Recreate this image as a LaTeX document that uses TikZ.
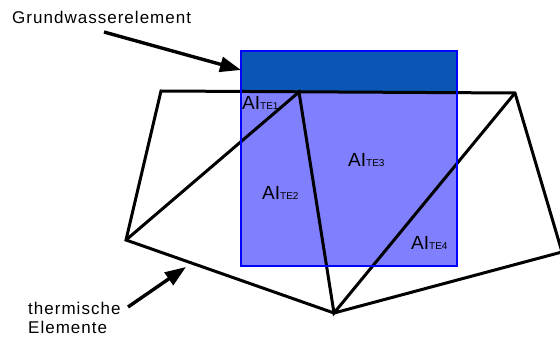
\documentclass[tikz,border=0pt]{standalone}
\usepackage{fontspec}
\setmainfont{Liberation Sans}
\usetikzlibrary{arrows.meta}
\definecolor{gwdark}{RGB}{10,86,182}
\definecolor{gwlight}{RGB}{128,128,255}
\newcommand{\ai}[1]{{\fontsize{19}{22}\selectfont AI}{\fontsize{10}{12}\selectfont #1}}

\begin{document}
\begin{tikzpicture}[x=1pt,y=-1pt,
	lbl/.style={inner sep=0pt,anchor=base west},
	txt/.style={inner sep=0pt,font=\fontsize{17}{19}\selectfont\addfontfeature{LetterSpace=6}},
	pfeil/.style={line width=3.4pt,-{Triangle[length=21pt,width=15pt]}}]
			\useasboundingbox (0,0) rectangle (560,339);
% 			Grundwasserelement
			\fill[gwlight] (241,51) rectangle (457,266);
			\fill[gwdark] (241,51) rectangle (457,92);
			\coordinate (p1) at (161,91);
			\coordinate (p2) at (299,92);
			\coordinate (p3) at (515,93);
			\coordinate (p4) at (126,240);
			\coordinate (p5) at (334,313);
			\coordinate (p6) at (562,252);
			
			\begin{scope}[line width=3pt]
			\draw (p1)--(p3)--(p6)--(p5)--(p4)--cycle;
			\draw (p4)--(p2)--(p5)--(p3);
			\end{scope}
			\draw[blue,line width=2.8pt] (241,51) rectangle (457,266);
			
			\node[lbl] (te1) at (242,110) {\ai{TE1}};
			\node[lbl] (te2) at (262,200) {\ai{TE2}};
			\node[lbl] (te3) at (348,167) {\ai{TE3}};
			\node[lbl] (te4) at (411,250) {\ai{TE4}};
			
			\node[txt,anchor=base west] (gw) at (12,24) {Grundwasserelement};
			\node[txt,anchor=north west,align=left] (te) at (28,302) {thermische\\Elemente};
			\coordinate (gwtail) at (104,32);
			\coordinate (gwtip) at (241,70);
			\coordinate (tetail) at (128,307);
			\coordinate (tetip) at (186,267);
			\draw[pfeil] (gwtail) -- (gwtip);
			\draw[pfeil] (tetail) -- (tetip);
\end{tikzpicture}
\end{document}
